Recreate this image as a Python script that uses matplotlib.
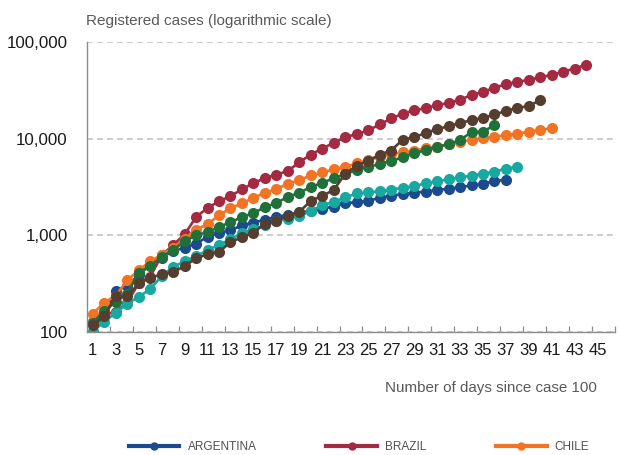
import numpy as np
import matplotlib.pyplot as plt
from matplotlib.lines import Line2D

plt.rcParams['font.family'] = ['Liberation Sans', 'DejaVu Sans']

# Cumulative registered cases, one value per day since case 100
argentina = [128, 158, 266, 301, 387, 502, 589, 690, 745, 820, 966, 1054, 1133,
             1265, 1353, 1451, 1554, 1628, 1715, 1795, 1894, 1975, 2142, 2208,
             2277, 2443, 2571, 2669, 2758, 2839, 2941, 3031, 3144, 3288, 3435,
             3607, 3780]
brazil = [121, 151, 162, 200, 321, 372, 621, 793, 1021, 1546, 1924, 2247, 2554,
          2985, 3477, 3904, 4256, 4630, 5717, 6836, 7910, 9056, 10360, 11130,
          12161, 14034, 16170, 18092, 19638, 20727, 22192, 23430, 25262, 28320,
          30425, 33682, 36599, 38654, 40581, 43079, 45757, 49492, 52995, 58509]
chile = [155, 201, 238, 342, 434, 537, 632, 746, 922, 1142, 1306, 1610, 1909,
         2139, 2449, 2738, 3031, 3404, 3737, 4161, 4471, 4815, 5116, 5546, 5972,
         6501, 6927, 7213, 7525, 7917, 8273, 8807, 9252, 9730, 10088, 10507,
         10832, 11296, 11812, 12306, 12858]
colombia = [102, 128, 158, 196, 231, 277, 378, 470, 539, 608, 702, 798, 906,
            1065, 1161, 1267, 1406, 1485, 1579, 1780, 2054, 2223, 2473, 2709,
            2776, 2852, 2979, 3105, 3233, 3439, 3621, 3792, 3977, 4149, 4356,
            4561, 4881, 5142]
mexico = [125, 165, 205, 250, 410, 480, 600, 705, 870, 1000, 1080, 1220, 1370,
          1540, 1700, 1960, 2160, 2500, 2750, 3170, 3480, 3910, 4300, 4740,
          5100, 5450, 5880, 6400, 7070, 7600, 8150, 8800, 9650, 11700, 11800,
          13800]
peru = [117, 145, 234, 234, 318, 363, 395, 416, 480, 580, 635, 671, 852, 950,
        1065, 1323, 1414, 1595, 1746, 2281, 2561, 2954, 4342, 5256, 5897, 6848,
        7519, 9784, 10303, 11475, 12491, 13489, 14420, 15628, 16325, 17837,
        19250, 20914, 21648, 25331]

series = [
    ("ARGENTINA", argentina, "#1b4a8d"),
    ("BRAZIL", brazil, "#a32a41"),
    ("CHILE", chile, "#f37324"),
    ("COLOMBIA", colombia, "#17a9a0"),
    ("MEXICO", mexico, "#20703a"),
    ("PERU", peru, "#553e30"),
]
legend_names = ["ARGENTINA", "BRAZIL", "CHILE"]

y_ticks = [100, 1000, 10000, 100000]
y_labels = ["100", "1,000", "10,000", "100,000"]
x_labels = list(range(1, 46, 2))

fig = plt.figure(figsize=(6.2, 4.55), dpi=100)
ax = fig.add_axes([87 / 620, 1 - 332 / 455, 528 / 620, 290 / 455])

for name, values, color in series:
    days = np.arange(1, len(values) + 1)
    ax.plot(days, values, color=color, lw=1.9, marker="o", ms=8,
            markeredgewidth=0, label=name)

ax.set_yscale("log")
ax.set_ylim(100, 100000)
ax.set_xlim(0.5, 46.5)
ax.set_yticks(y_ticks)
ax.set_yticklabels(y_labels)
ax.yaxis.set_minor_locator(plt.NullLocator())
ax.set_xticks(x_labels)
ax.set_xticklabels([str(d) for d in x_labels])
ax.set_xticks(np.arange(2.5, 47, 2), minor=True)

ax.tick_params(axis="y", length=0, pad=14, labelsize=12.2, colors="#1a1a1a")
ax.tick_params(axis="x", which="major", length=0, pad=8, labelsize=12,
               colors="#1a1a1a")
ax.tick_params(axis="x", which="minor", direction="in", length=4,
               width=0.9, color="#8c8c8c")

ax.grid(axis="y", which="major", color="#c4c4c4", lw=1.2, ls=(0, (3.5, 2.5)))
ax.set_axisbelow(True)
for side in ["top", "right"]:
    ax.spines[side].set_visible(False)
for side in ["left", "bottom"]:
    ax.spines[side].set_color("#8c8c8c")
    ax.spines[side].set_linewidth(1.0)

fig.text(86 / 620, 1 - 21 / 455, "Registered cases (logarithmic scale)",
         ha="left", va="center", fontsize=11, color="#595959")
fig.text(597 / 620, 1 - 388 / 455, "Number of days since case 100",
         ha="right", va="center", fontsize=10.9, color="#595959")

handles = [Line2D([], [], color=c, lw=3, marker="o", ms=5)
           for n, v, c in series if n in legend_names]
fig.legend(handles, legend_names, loc="center",
           bbox_to_anchor=(359 / 620, 1 - 447 / 455),
           ncol=3, frameon=False, handlelength=4.3, columnspacing=5.9,
           handletextpad=0.68, fontsize=8.5, labelcolor="#505050")

fig.savefig("out.png", dpi=100)
